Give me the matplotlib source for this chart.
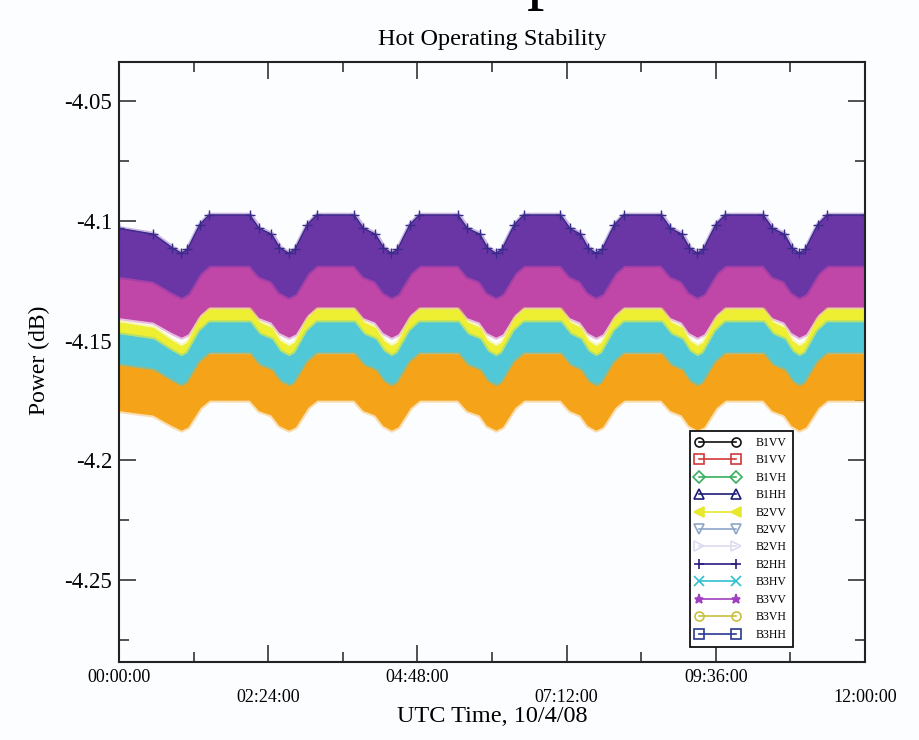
import matplotlib
matplotlib.use("Agg")
import matplotlib.pyplot as plt
from matplotlib.lines import Line2D
import numpy as np

plt.rcParams['font.family'] = ['Liberation Serif', 'DejaVu Serif']
plt.rcParams['axes.unicode_minus'] = False

# shape of the orbital ripple (hours, 0 = plateau, -1 = bottom of dip)
wave_t = [0.00, 0.55, 0.85, 1.00, 1.10, 1.30, 1.45, 2.10, 2.25, 2.45, 2.58,
          2.73, 2.83, 3.03, 3.18, 3.78, 3.93, 4.12, 4.25,
          4.38, 4.48, 4.68, 4.83, 5.45, 5.60, 5.80, 5.92,
          6.06, 6.16, 6.36, 6.51, 7.10, 7.25, 7.42, 7.54,
          7.67, 7.77, 7.97, 8.12, 8.72, 8.87, 9.05, 9.17,
          9.30, 9.40, 9.60, 9.75, 10.36, 10.51, 10.70, 10.82,
          10.94, 11.04, 11.24, 11.39, 12.00]
wave_v = [-0.35, -0.50, -0.85, -1.00, -0.90, -0.25, 0.00, 0.00, -0.35, -0.50, -0.85,
          -1.00, -0.90, -0.25, 0.00, 0.00, -0.35, -0.50, -0.85,
          -1.00, -0.90, -0.25, 0.00, 0.00, -0.35, -0.50, -0.85,
          -1.00, -0.90, -0.25, 0.00, 0.00, -0.35, -0.50, -0.85,
          -1.00, -0.90, -0.25, 0.00, 0.00, -0.35, -0.50, -0.85,
          -1.00, -0.90, -0.25, 0.00, 0.00, -0.35, -0.50, -0.85,
          -1.00, -0.90, -0.25, 0.00, 0.00]

# band edges (dB at plateau, extra drop at the dips), drawn in this order
band_colors = ['#c046a8', '#6a36a6', '#eeee32', '#50c8d8', '#f5a41a']
top_level = [-4.1120, -4.0976, -4.1371, -4.1425, -4.1558]
top_drop = [0.0120, 0.0160, 0.0154, 0.0142, 0.0134]
bot_level = [-4.1358, -4.1183, -4.1500, -4.1550, -4.1746]
bot_drop = [0.0125, 0.0133, 0.0150, 0.0167, 0.0125]

legend_labels = ['B1VV', 'B1VV', 'B1VH', 'B1HH', 'B2VV', 'B2VV',
                 'B2VH', 'B2HH', 'B3HV', 'B3VV', 'B3VH', 'B3HH']
legend_colors = ['#111111', '#d03838', '#38b060', '#1c1c78', '#e8e830', '#8ea6c8',
                 '#dcdcf0', '#2a1c80', '#30c0d0', '#a040c0', '#c8c040', '#2a3a90']
legend_markers = ['o', 's', 'D', '^', '<', 'v', '>', '+', 'x', '*', 'o', 's']

ytick_vals = [-4.05, -4.1, -4.15, -4.2, -4.25]
ytick_labels = ['-4.05', '-4.1', '-4.15', '-4.2', '-4.25']
xtick_vals = [0, 2.4, 4.8, 7.2, 9.6, 12]
xtick_labels = ['00:00:00', '02:24:00', '04:48:00', '07:12:00', '09:36:00', '12:00:00']

fig = plt.figure(figsize=(9.19, 7.40), dpi=100, facecolor='#fcfdff')
ax = fig.add_axes([0.1295, 0.1054, 0.8117, 0.8108])
ax.set_facecolor('#fcfdff')

t = np.array(wave_t)
w = np.array(wave_v)
for i in range(len(band_colors)):
    upper = top_level[i] + top_drop[i] * w
    lower = bot_level[i] + bot_drop[i] * w
    # soft halo first, then the solid band
    ax.fill_between(t, lower, upper, color=band_colors[i], lw=4, alpha=0.35,
                    edgecolor=band_colors[i], zorder=2 + i)
    ax.fill_between(t, lower, upper, color=band_colors[i], lw=1.0,
                    edgecolor=band_colors[i], zorder=2 + i)
    if i == 1:
        # B2HH crosses sticking out on top of the purple band
        ax.plot(t, upper, color='#3a2a8a', lw=1.0, marker='+', ms=7, mew=1.0,
                ls='-', zorder=2 + i)

ax.set_xlim(0, 12)
ax.set_ylim(-4.2842, -4.03375)

ax.set_yticks(ytick_vals, ytick_labels)
ax.set_yticks([-4.075, -4.125, -4.175, -4.225, -4.275], minor=True)
stag = [lab if k % 2 == 0 else '\n' + lab for k, lab in enumerate(xtick_labels)]
ax.set_xticks(xtick_vals, stag)
ax.set_xticks([1.2, 3.6, 6.0, 8.4, 10.8], minor=True)
for lab in ax.get_xticklabels():
    lab.set_linespacing(1.25)

ax.tick_params(which='both', direction='in', top=True, right=True, width=1.1, color='#222222')
ax.tick_params(which='major', length=12)
ax.tick_params(which='minor', length=7)
ax.tick_params(axis='y', labelsize=16.5, pad=5)
ax.tick_params(axis='x', labelsize=13, pad=5)
for s in ax.spines.values():
    s.set_linewidth(1.5)
    s.set_color('#222222')
    s.set_zorder(30)

ax.set_title('Hot Operating Stability', fontsize=17.5, pad=12)
ax.set_xlabel('UTC Time, 10/4/08', fontsize=17.5, va='center')
ax.xaxis.set_label_coords(0.5, -0.09)
ax.set_ylabel('Power (dB)', fontsize=17, va='center')
ax.yaxis.set_label_coords(-0.106, 0.503)

# cut-off word of the main title above the frame (only the descender shows)
fig.text(0.592, 1.005, 'p', fontsize=50, ha='center', va='baseline')

handles = [Line2D([], [], color=c, marker=m, mfc='none' if m not in ('<', '*', '+', 'x') else c,
                  mec=c, ms=6.5, lw=1.2, mew=1.2)
           for c, m in zip(legend_colors, legend_markers)]
leg = ax.legend(handles, legend_labels, loc='upper left', bbox_to_anchor=(0.7654, 0.385),
                borderaxespad=0, fontsize=8.5, numpoints=2, handlelength=3.7,
                handletextpad=1.4, labelspacing=0.46, fancybox=False,
                framealpha=1, edgecolor='#111111', borderpad=0.5)
leg.get_frame().set_linewidth(1.3)
leg.set_zorder(20)

fig.savefig('out.png', dpi=100, facecolor=fig.get_facecolor())
